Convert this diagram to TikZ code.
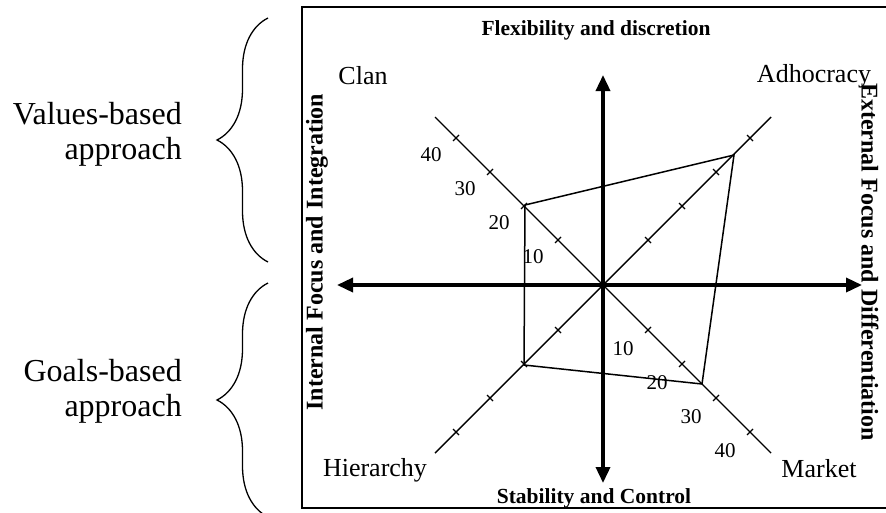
\documentclass[tikz,border=0pt]{standalone}
\usepackage{fontspec}
\setmainfont{Liberation Serif}
\usepackage{tikz}
\usetikzlibrary{calc,arrows.meta,decorations.pathreplacing}
\tikzset{
  frame/.style={draw=black, line width=2pt},
  axis/.style={draw=black, line width=3.5pt, {Triangle[length=16pt,width=14pt]}-{Triangle[length=16pt,width=14pt]}},
  diag/.style={draw=black, line width=1.4pt},
  tickmark/.style={draw=black, line width=1.1pt},
  profile/.style={draw=black, line width=1.5pt},
  axlbl/.style={font=\fontsize{21.5}{24}\selectfont\bfseries, inner sep=0pt},
  vlbl/.style={font=\fontsize{24}{27}\selectfont\bfseries, inner sep=0pt},
  culture/.style={font=\fontsize{26}{30}\selectfont, inner sep=0pt},
  num/.style={font=\fontsize{21}{24}\selectfont, inner sep=0pt},
  side/.style={font=\fontsize{32}{35}\selectfont, align=right, inner sep=0pt, anchor=east},
  curly/.style={draw=black, line width=1.3pt, decorate, decoration={brace, amplitude=51pt, aspect=0.5}}
}

\begin{document}
\begin{tikzpicture}[x=1pt, y=-1pt]
  \useasboundingbox (0,0) rectangle (886,512);
  \coordinate (O) at (603,285);
  \coordinate (N) at (603,75);
  \coordinate (S) at (603,483);
  \coordinate (W) at (337,285);
  \coordinate (E) at (862,285);
  \coordinate (NW) at ($(O)+(-168,-168)$);
  \coordinate (NE) at ($(O)+(168,-168)$);
  \coordinate (SE) at ($(O)+(168,168)$);
  \coordinate (SW) at ($(O)+(-168,168)$);

  % scores
  \coordinate (A) at ($(O)+(131,-130)$);
  \coordinate (C) at ($(O)+(-78,-80)$);
  \coordinate (H) at ($(O)+(-79,80)$);
  \coordinate (M) at ($(O)+(99,99)$);

  \draw[frame] (302,7) rectangle (890,508);

  \draw[diag] (NW)--(SE);
  \draw[diag] (SW)--(NE);
  \foreach \d in {45,79,113,147} {
    \draw[tickmark] ($(O)+(-\d-3,-\d+3)$)--($(O)+(-\d+3,-\d-3)$);
    \draw[tickmark] ($(O)+(\d-3,\d+3)$)--($(O)+(\d+3,\d-3)$);
    \draw[tickmark] ($(O)+(\d-3,-\d-3)$)--($(O)+(\d+3,-\d+3)$);
    \draw[tickmark] ($(O)+(-\d-3,\d-3)$)--($(O)+(-\d+3,\d+3)$);
  }

  \draw[profile] (A)--(C)--(H)--(M)--cycle;

  \draw[axis] (W)--(E);
  \draw[axis] (S)--(N);

  \foreach \n [count=\i] in {10,20,30,40} {
    \pgfmathtruncatemacro\d{11+34*\i}
    \node[num] (nw\n) at ($(O)+(-\d-25,-\d+17)$) {\n};
    \node[num] (se\n) at ($(O)+(\d-25,\d+19)$) {\n};
  }

  \node[axlbl] (flex) at (596,30) {Flexibility and discretion};
  \node[axlbl] (stab) at (594,498) {Stability and Control};
  \node[vlbl, rotate=90] (int) at (317,252) {Internal Focus and Integration};
  \node[vlbl, rotate=-90] (ext) at (870,262) {External Focus and Differentiation};

  \node[culture] (clan) at (363,76) {Clan};
  \node[culture] (adho) at (814,76) {Adhocracy};
  \node[culture] (hier) at (375,470) {Hierarchy};
  \node[culture] (mark) at (819,469) {Market};

  \node[side] (values) at (182,134) {Values-based\\approach};
  \node[side] (goals) at (182,391) {Goals-based\\approach};

  \coordinate (vt) at (268,18);
  \coordinate (vb) at (268,262);
  \coordinate (gt) at (268,283);
  \coordinate (gb) at (268,517);
  \draw[curly] (vb)--(vt);
  \draw[curly] (gb)--(gt);
\end{tikzpicture}
\end{document}
